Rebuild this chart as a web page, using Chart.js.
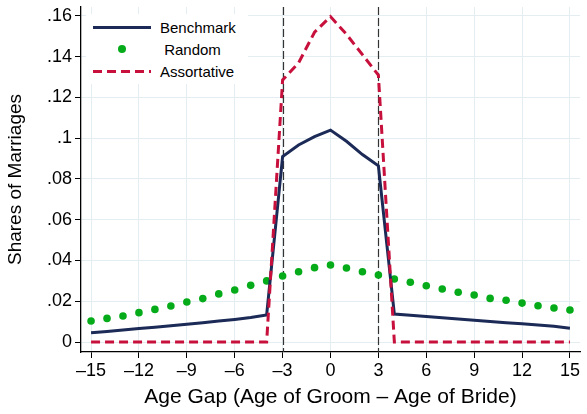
<!DOCTYPE html>
<html>
<head>
<meta charset="utf-8">
<script src="https://cdn.jsdelivr.net/npm/chart.js@4"></script>
<style>
  body { margin: 0; background: #fff; }
  #wrap { position: relative; width: 587px; height: 414px; }
  #legend {
    position: absolute; left: 86px; top: 14px; width: 162px;
    background: #fff; padding: 2px 0;
    font-family: "Liberation Sans", Arial, sans-serif; font-size: 15px; color: #000;
  }
  .row { height: 22px; display: flex; align-items: center; }
  .mark { width: 58px; margin-left: 7px; margin-right: 9px; display: inline-block; }
  .solid { height: 3px; background: #1b2a56; }
  .dash { height: 3px; background: repeating-linear-gradient(90deg, #c8103c 0 9px, transparent 9px 14px); }
  .dotbox { height: 9px; position: relative; }
  .dot { position: absolute; left: 25px; top: 0; width: 8px; height: 8px; border-radius: 50%; background: #06ab1a; }
</style>
</head>
<body>
<div id="wrap">
  <canvas id="myChart" width="587" height="414"></canvas>
  <div id="legend"></div>
</div>
<script>
var ages = [-15,-14,-13,-12,-11,-10,-9,-8,-7,-6,-5,-4,-3,-2,-1,0,1,2,3,4,5,6,7,8,9,10,11,12,13,14,15];

var benchmark = [0.0046,0.0052,0.0059,0.0066,0.0073,0.0080,0.0087,0.0095,0.0103,0.0111,0.0120,0.0133,
  0.091,0.0967,0.1008,0.104,0.0985,0.092,0.0865,
  0.0137,0.0131,0.0125,0.0119,0.0113,0.0107,0.0101,0.0095,0.0090,0.0084,0.0077,0.0068];

var random = [0.0103,0.0116,0.0128,0.0144,0.0160,0.0177,0.0196,0.0213,0.0236,0.0255,0.0278,0.0300,
  0.0324,0.0345,0.0365,0.0378,0.0363,0.0345,0.0329,
  0.0309,0.0293,0.0276,0.0260,0.0244,0.0231,0.0214,0.0205,0.0191,0.0178,0.0167,0.0157];

var assortative = [0,0,0,0,0,0,0,0,0,0,0,0,
  0.1286,0.137,0.152,0.1597,0.151,0.141,0.131,
  0,0,0,0,0,0,0,0,0,0,0,0];

var xTicks = [-15,-12,-9,-6,-3,0,3,6,9,12,15];
var yTicks = [0,0.02,0.04,0.06,0.08,0.1,0.12,0.14,0.16];
var refLines = [-3, 3];

function pairs(vals) {
  return ages.map(function(a, i) { return {x: a, y: vals[i]}; });
}

function fmtY(v) {
  if (v === 0) return '0';
  return String(Math.round(v * 100) / 100).replace(/^0/, '');
}

var refLinePlugin = {
  id: 'refLines',
  beforeDatasetsDraw: function(chart) {
    var ctx = chart.ctx, area = chart.chartArea, xs = chart.scales.x;
    ctx.save();
    ctx.lineWidth = 1.2;
    ctx.strokeStyle = '#333';
    ctx.setLineDash([8, 3]);
    refLines.forEach(function(v) {
      var px = Math.round(xs.getPixelForValue(v)) + 0.5;
      ctx.beginPath();
      ctx.moveTo(px, area.top);
      ctx.lineTo(px, area.bottom);
      ctx.stroke();
    });
    ctx.restore();
  }
};

var family = '"Liberation Sans", Arial, sans-serif';
var tickFont = { family: family, size: 18 };

var ctx = document.getElementById('myChart');
var myChart = new Chart(ctx, {
  type: 'line',
  data: {
    datasets: [
      {
        label: 'Benchmark', data: pairs(benchmark), order: 1,
        borderColor: '#1b2a56', borderWidth: 3, pointRadius: 0, tension: 0
      },
      {
        label: 'Random', data: pairs(random), order: 2, showLine: false,
        pointRadius: 3.8, pointBackgroundColor: '#06ab1a', pointBorderWidth: 0
      },
      {
        label: 'Assortative', data: pairs(assortative), order: 0,
        borderColor: '#c8103c', borderWidth: 3, borderDash: [9, 5], pointRadius: 0, tension: 0
      }
    ]
  },
  options: {
    responsive: false,
    animation: false,
    layout: { padding: { top: 7, right: 7, left: 0, bottom: 0 } },
    plugins: { legend: { display: false }, tooltip: { enabled: false } },
    scales: {
      x: {
        type: 'linear', min: -15.63, max: 15.63,
        afterBuildTicks: function(s) { s.ticks = xTicks.map(function(v) { return {value: v}; }); },
        afterFit: function(s) { s.height = 62; s.paddingLeft = 0; s.paddingRight = 0; },
        ticks: {
          color: '#000', font: tickFont, padding: 2, maxRotation: 0, autoSkip: false,
          callback: function(v) { return v < 0 ? '\u2013' + Math.abs(v) : String(v); }
        },
        grid: { color: '#e4edf1', tickColor: '#000', tickLength: 6, lineWidth: 1 },
        border: { color: '#000', width: 1.3 },
        title: { display: true, text: 'Age Gap (Age of Groom \u2013 Age of Bride)', color: '#000',
                 font: { family: family, size: 21 }, padding: { top: 2 } }
      },
      y: {
        type: 'linear', min: -0.0049, max: 0.1644,
        afterBuildTicks: function(s) { s.ticks = yTicks.map(function(v) { return {value: v}; }); },
        afterFit: function(s) { s.width = 81; s.paddingTop = 0; s.paddingBottom = 0; },
        ticks: {
          color: '#000', font: tickFont, padding: 3,
          callback: function(v) { return fmtY(v); }
        },
        grid: { color: '#e4edf1', tickColor: '#000', tickLength: 6, lineWidth: 1 },
        border: { color: '#000', width: 1.3 },
        title: { display: true, text: 'Shares of Marriages', color: '#000',
                 font: { family: family, size: 19 }, padding: { top: 4 } }
      }
    }
  },
  plugins: [refLinePlugin]
});

// legend built from the dataset labels
var legend = document.getElementById('legend');
var marks = ['<span class="mark solid"></span>', '<span class="mark dotbox"><span class="dot"></span></span>', '<span class="mark dash"></span>'];
myChart.data.datasets.forEach(function(ds, i) {
  var row = document.createElement('div');
  row.className = 'row';
  row.innerHTML = marks[i] + '<span>' + (i === 1 ? '&nbsp;' : '') + ds.label + '</span>';
  legend.appendChild(row);
});
</script>
</body>
</html>
